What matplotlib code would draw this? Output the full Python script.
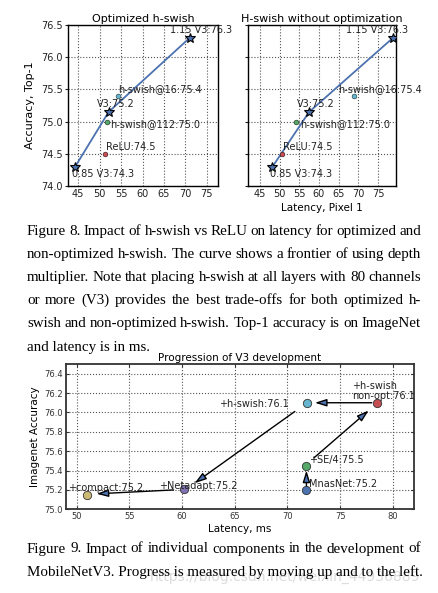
import matplotlib
matplotlib.use("Agg")
import matplotlib.pyplot as plt
import numpy as np

# ---------------- data ----------------
# Figure 8, optimized h-swish
opt_curve_lat = [44.3, 52.1, 71.0]
opt_curve_acc = [74.3, 75.15, 76.3]
opt_pts_lat = [54.2, 51.8, 51.3]
opt_pts_acc = [75.4, 75.0, 74.5]
opt_curve_labels = ["0.85 V3:74.3", "V3:75.2", "1.15 V3:76.3"]
opt_curve_label_pos = [(43.5, 74.19), (49.3, 75.27), (66.4, 76.43)]
opt_pt_labels = ["h-swish@16:75.4", "h-swish@112:75.0", "ReLU:74.5"]
opt_pt_label_pos = [(54.4, 75.50), (52.4, 74.96), (51.5, 74.61)]

# Figure 8, non-optimized h-swish
non_curve_lat = [48.2, 57.5, 78.8]
non_curve_acc = [74.3, 75.15, 76.3]
non_pts_lat = [69.0, 54.2, 50.5]
non_pts_acc = [75.4, 75.0, 74.5]
non_curve_label_pos = [(47.5, 74.19), (54.5, 75.27), (66.9, 76.42)]
non_pt_label_pos = [(64.9, 75.51), (55.2, 74.96), (50.8, 74.61)]

x_ticks_top = [45, 50, 55, 60, 65, 70, 75]
y_ticks_top = [74.0, 74.5, 75.0, 75.5, 76.0, 76.5]

# Figure 9, progression
prog_names = ["+compact:75.2", "+Netadapt:75.2", "MnasNet:75.2", "+SE/4:75.5",
              "+h-swish\nnon-opt:76.1", "+h-swish:76.1"]
prog_lat = [51.0, 60.2, 71.8, 71.8, 78.5, 71.9]
prog_acc = [75.15, 75.21, 75.20, 75.45, 76.10, 76.10]
prog_label_pos = [(49.2, 75.22), (57.8, 75.24), (72.0, 75.26), (72.0, 75.51),
                  (76.1, 76.22), (63.5, 76.09)]
# arrows: (start, end)
arrows = [((78.0, 76.10), (72.6, 76.10)),
          ((59.2, 75.20), (51.9, 75.16)),
          ((70.7, 76.01), (61.2, 75.27)),
          ((72.5, 75.53), (77.7, 76.02)),
          ((71.8, 75.23), (71.8, 75.40))]
x_ticks_bot = [50, 55, 60, 65, 70, 75, 80]
y_ticks_bot = [75.0, 75.2, 75.4, 75.6, 75.8, 76.0, 76.2, 76.4]

caption8 = [
    "Figure 8. Impact of h-swish vs ReLU on latency for optimized and",
    "non-optimized h-swish. The curve shows a frontier of using depth",
    "multiplier. Note that placing h-swish at all layers with 80 channels",
    "or more (V3) provides the best trade-offs for both optimized h-",
    "swish and non-optimized h-swish. Top-1 accuracy is on ImageNet",
    "and latency is in ms.",
]
caption9 = [
    "Figure 9. Impact of individual components in the development of",
    "MobileNetV3. Progress is measured by moving up and to the left.",
]

BLUE = "#4C72B0"; GREEN = "#55A868"; RED = "#C44E52"
PURPLE = "#8172B2"; GOLD = "#CCB974"; CYAN = "#64B5CD"
pt_colors_top = [CYAN, GREEN, RED]
prog_colors = [GOLD, PURPLE, BLUE, GREEN, RED, CYAN]

W, H = 438, 593
fig = plt.figure(figsize=(W / 100, H / 100), dpi=100)
fig.patch.set_facecolor("white")
plt.rcParams["font.family"] = "DejaVu Sans"


def ax_rect(l, r, t, b):
    return [l / W, 1 - b / H, (r - l) / W, (b - t) / H]


def style_top(ax):
    ax.grid(True, linestyle=":", color="#555555", linewidth=0.8)
    for s in ax.spines.values():
        s.set_color("black"); s.set_linewidth(1.0)
    ax.tick_params(direction="out", length=2, labelsize=7, pad=2, colors="#222222")
    ax.tick_params(axis="x", length=0)


def draw_top(ax, clat, cacc, clabpos, plat, pacc, plabpos, title, xlim, ylabels):
    ax.plot(clat, cacc, "-", color=BLUE, lw=1.3, zorder=3)
    ax.plot(clat, cacc, "*", color=BLUE, mec="black", mew=0.8, ms=7, zorder=4)
    for x, y, c in zip(plat, pacc, pt_colors_top):
        ax.plot(x, y, "o", color=c, mec="black", mew=0.3, ms=3.5, zorder=4)
    for lab, (x, y) in zip(opt_curve_labels, clabpos):
        ax.text(x, y, lab, fontsize=7, ha="left", va="center", color="#222222",
                zorder=5, clip_on=False)
    for lab, (x, y) in zip(opt_pt_labels, plabpos):
        ax.text(x, y, lab, fontsize=7, ha="left", va="center", color="#222222",
                zorder=5, clip_on=False)
    ax.set_xlim(*xlim)
    ax.set_ylim(74.0, 76.5)
    ax.set_xticks(x_ticks_top)
    ax.set_yticks(y_ticks_top)
    if ylabels:
        ax.set_yticklabels([f"{v:.1f}" for v in y_ticks_top])
    else:
        ax.set_yticklabels([])
    ax.set_title(title, fontsize=8, pad=2)
    style_top(ax)


ax1 = fig.add_axes(ax_rect(68.3, 218, 25, 186))
draw_top(ax1, opt_curve_lat, opt_curve_acc, opt_curve_label_pos,
         opt_pts_lat, opt_pts_acc, opt_pt_label_pos, "Optimized h-swish",
         (42.7, 77.6), True)
ax1.set_ylabel("Accuracy, Top-1", fontsize=8, labelpad=4)

ax2 = fig.add_axes(ax_rect(247.7, 395.7, 25, 186))
draw_top(ax2, non_curve_lat, non_curve_acc, non_curve_label_pos,
         non_pts_lat, non_pts_acc, non_pt_label_pos, "H-swish without optimization",
         (41.9, 79.5), False)
ax2.set_xlabel("Latency, Pixel 1", fontsize=7.5, labelpad=3)

# bottom axes
ax3 = fig.add_axes(ax_rect(66, 414, 364, 509.3))
for (s, e) in arrows:
    ax3.annotate("", xy=e, xytext=s,
                 arrowprops=dict(arrowstyle="-|>,head_length=0.7,head_width=0.22",
                                 fc=BLUE, ec="black", lw=1.0,
                                 shrinkA=0, shrinkB=0), zorder=3)
for x, y, c in zip(prog_lat, prog_acc, prog_colors):
    ax3.plot(x, y, "o", color=c, mec="#333333", mew=0.6, ms=6, zorder=4)
for lab, (x, y) in zip(prog_names, prog_label_pos):
    ax3.text(x, y, lab, fontsize=7, ha="left", va="center", color="#222222",
             zorder=5, linespacing=1.0)
ax3.set_xlim(49, 82)
ax3.set_ylim(75.0, 76.5)
ax3.set_xticks(x_ticks_bot)
ax3.set_yticks(y_ticks_bot)
ax3.set_yticklabels([f"{v:.1f}" for v in y_ticks_bot])
ax3.grid(True, linestyle=":", color="#555555", linewidth=0.8)
for s in ax3.spines.values():
    s.set_color("#333333"); s.set_linewidth(1.3)
ax3.tick_params(direction="in", length=2, labelsize=6, pad=2, colors="#333333",
                top=True, right=True)
ax3.set_title("Progression of V3 development", fontsize=7.5, pad=2)
ax3.set_xlabel("Latency, ms", fontsize=7.5, labelpad=2)
ax3.set_ylabel("Imagenet Accuracy", fontsize=7.5, labelpad=3)

# captions, justified
renderer = fig.canvas.get_renderer()
CAP_FONT = dict(family="Liberation Serif", fontsize=10.8, color="black")


def draw_par(lines, x0, x1, y_start, dy):
    for i, line in enumerate(lines):
        yc = 1 - (y_start + i * dy) / H
        last = i == len(lines) - 1
        words = line.split(" ")
        if last:
            fig.text(x0 / W, yc, line, ha="left", va="center", **CAP_FONT)
            continue
        ts = [fig.text(0, yc, w, ha="left", va="center", **CAP_FONT) for w in words]
        widths = [t.get_window_extent(renderer).width for t in ts]
        gap = (x1 - x0 - sum(widths)) / (len(words) - 1)
        x = x0
        for t, w in zip(ts, widths):
            t.set_x(x / W)
            x += w + gap


draw_par(caption8, 27, 421, 231, 23.2)
draw_par(caption9, 27, 421, 549, 23.0)

fig.text(420 / W, 1 - 577 / H, "https://blog.csdn.net/weixin_44936889",
         ha="right", va="center", fontsize=10, color="#dcdcdc", zorder=0)

fig.savefig("out.png", dpi=100, facecolor="white")
